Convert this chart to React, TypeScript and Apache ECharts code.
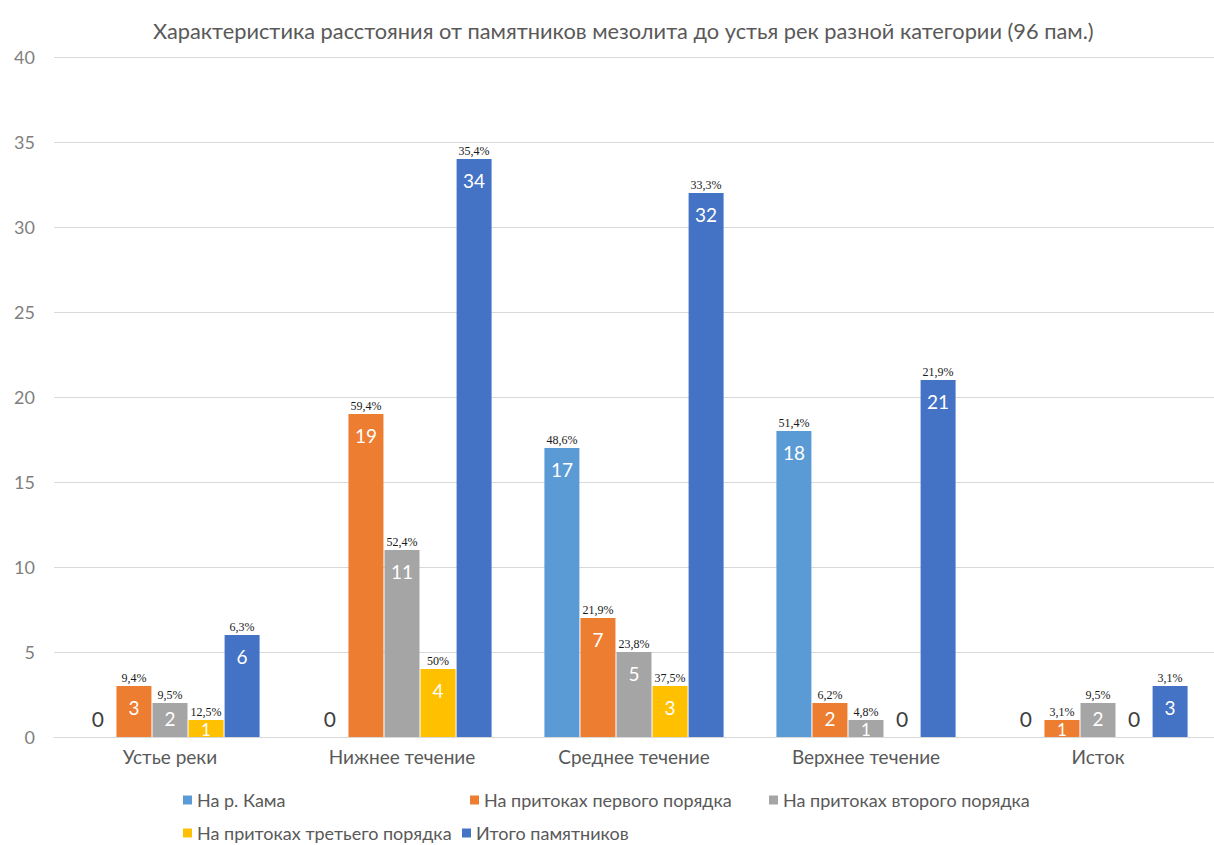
import React, { useEffect, useRef } from "react";
import * as echarts from "echarts";

const categories = ["Устье реки", "Нижнее течение", "Среднее течение", "Верхнее течение", "Исток"];
const seriesNames = [
  "На р. Кама",
  "На притоках первого порядка",
  "На притоках второго порядка",
  "На притоках третьего порядка",
  "Итого памятников",
];
const kama = [0, 0, 17, 18, 0];
const firstOrder = [3, 19, 7, 2, 1];
const secondOrder = [2, 11, 5, 1, 2];
const thirdOrder = [1, 4, 3, 0, 0];
const total = [6, 34, 32, 21, 3];

const kamaPct = ["", "", "48,6%", "51,4%", ""];
const firstPct = ["9,4%", "59,4%", "21,9%", "6,2%", "3,1%"];
const secondPct = ["9,5%", "52,4%", "23,8%", "4,8%", "9,5%"];
const thirdPct = ["12,5%", "50%", "37,5%", "", ""];
const totalPct = ["6,3%", "35,4%", "33,3%", "21,9%", "3,1%"];

const colors = ["#5B9BD5", "#ED7D31", "#A5A5A5", "#FFC000", "#4472C4"];

const FONT = "Lato, 'Noto Sans', sans-serif";

function buildData(values: number[], pcts: string[]) {
  return values.map((v, i) => {
    if (v === 0) {
      return {
        value: v,
        label: {
          show: true,
          position: "top",
          distance: 8,
          formatter: "0",
          color: "#404040",
          fontSize: 21,
          fontFamily: FONT,
        },
      };
    }
    const lh = v === 1 ? 20 : v === 2 ? 32 : 44;
    const fs = v === 1 ? 17 : 19;
    return {
      value: v,
      label: {
        show: true,
        position: "insideTop",
        distance: 0,
        offset: [0, -15],
        formatter: `{p|${pcts[i]}}\n{v|${v}}`,
        rich: {
          p: {
            fontFamily: "'Liberation Serif', 'DejaVu Serif', serif",
            fontSize: 12,
            lineHeight: 14,
            color: "#1a1a1a",
          },
          v: {
            fontFamily: FONT,
            fontSize: fs,
            lineHeight: lh,
            color: "#ffffff",
          },
        },
      },
    };
  });
}

export default function App() {
  const ref = useRef<HTMLDivElement>(null);
  useEffect(() => {
    if (!ref.current) return;
    const chart = echarts.init(ref.current, undefined, { renderer: "svg" });
    const allValues = [kama, firstOrder, secondOrder, thirdOrder, total];
    const allPcts = [kamaPct, firstPct, secondPct, thirdPct, totalPct];
    const legendPos = [
      { left: 183, top: 790 },
      { left: 470, top: 790 },
      { left: 769, top: 790 },
      { left: 183, top: 823 },
      { left: 462, top: 823 },
    ];
    chart.setOption({
      animation: false,
      backgroundColor: "#ffffff",
      color: colors,
      title: {
        text: "Характеристика расстояния от памятников мезолита до устья рек разной категории (96 пам.)",
        left: 148,
        top: 14,
        textStyle: { fontFamily: FONT, fontSize: 21.8, fontWeight: "normal", color: "#595959" },
      },
      legend: seriesNames.map((n, i) => ({
        data: [n],
        left: legendPos[i].left,
        top: legendPos[i].top,
        padding: 0,
        itemWidth: 9,
        itemHeight: 9,
        icon: "rect",
        textStyle: { fontFamily: FONT, fontSize: 18, lineHeight: 20, color: "#595959" },
        selectedMode: false,
      })),
      grid: { left: 54, right: -3, top: 57, bottom: 108, containLabel: false },
      xAxis: {
        type: "category",
        data: categories,
        axisTick: { show: false },
        axisLine: { lineStyle: { color: "#d9d9d9", width: 1 } },
        axisLabel: { fontFamily: FONT, fontSize: 19, color: "#595959", margin: 10 },
      },
      yAxis: {
        type: "value",
        min: 0,
        max: 40,
        interval: 5,
        axisLine: { show: false },
        axisTick: { show: false },
        splitLine: { lineStyle: { color: "#d9d9d9", width: 1 } },
        axisLabel: { fontFamily: FONT, fontSize: 18, color: "#7f7f7f", margin: 19 },
      },
      series: seriesNames.map((n, i) => ({
        name: n,
        type: "bar",
        barWidth: 35,
        barGap: "3%",
        itemStyle: { color: colors[i] },
        data: buildData(allValues[i], allPcts[i]),
      })),
    });
    return () => chart.dispose();
  }, []);
  return (
    <div
      ref={ref}
      style={{ position: "fixed", left: 0, top: 0, width: 1214, height: 845, background: "#fff" }}
    />
  );
}
